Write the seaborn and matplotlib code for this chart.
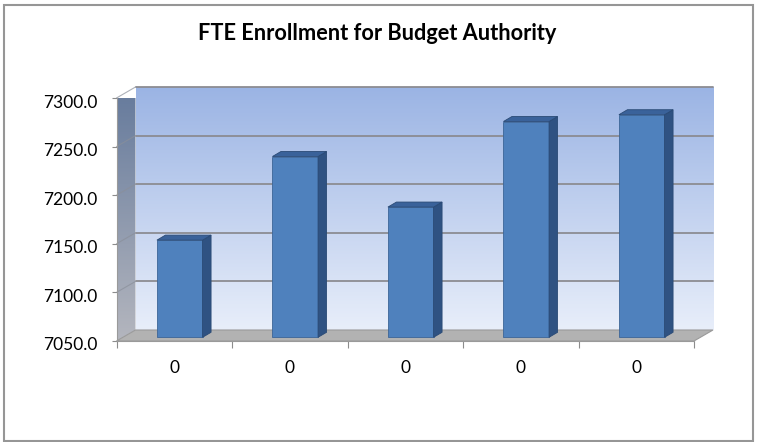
import numpy as np
import pandas as pd
import matplotlib
matplotlib.use("Agg")
import matplotlib.pyplot as plt
import seaborn as sns
from matplotlib.patches import Polygon, Rectangle
from matplotlib.colors import LinearSegmentedColormap
from matplotlib.lines import Line2D
from matplotlib.transforms import ScaledTranslation

# ---------------- data ----------------
title = "FTE Enrollment for Budget Authority"
periods = [1, 2, 3, 4, 5]
tick_labels = ["0", "0", "0", "0", "0"]
enrollment = [7150.0, 7236.0, 7184.0, 7272.0, 7279.0]
y_ticks = [7050.0, 7100.0, 7150.0, 7200.0, 7250.0, 7300.0]

df = pd.DataFrame({"period": periods, "fte": enrollment})

# ---------------- style ----------------
sns.set_theme(style="white")
plt.rcParams["font.family"] = ["Lato", "DejaVu Sans"]

W, H = 760, 442
fig = plt.figure(figsize=(W / 100, H / 100), dpi=100)
fig.patch.set_facecolor("white")

# front plane of the 3-D box (pixels)
L, R, T, B = 116.5, 694.0, 98.0, 341.0
ax = fig.add_axes([L / W, 1 - B / H, (R - L) / W, (B - T) / H])
ax.set_facecolor("none")

ymin, ymax = y_ticks[0], y_ticks[-1]
n = len(periods)
sx = (R - L) / n
sy = (B - T) / (ymax - ymin)


def off(dx_px, dy_px):
    return dx_px / sx, dy_px / sy


Dx, Dy = off(19, 11)      # full depth of the box
bx, by = off(5.5, 3.7)    # bar front plane
ddx, ddy = off(8.5, 5.0)  # bar depth

sns.barplot(data=df, x="period", y="fte", ax=ax, width=0.395,
            color="#4F81BD", saturation=1, edgecolor="#3C6597",
            linewidth=0.6, zorder=5)

x_lo, x_hi = -0.5, n - 0.5

# back wall gradient
wall_cmap = LinearSegmentedColormap.from_list("wall", ["#E8EEFA", "#9BB4E4"])
grad = np.linspace(0, 1, 256).reshape(-1, 1)
ax.imshow(grad, cmap=wall_cmap, origin="lower", aspect="auto",
          extent=[x_lo + Dx, x_hi + Dx, ymin + Dy, ymax + Dy],
          zorder=0, clip_on=False, interpolation="bilinear")

# left side wall gradient
side_cmap = LinearSegmentedColormap.from_list("side", ["#B4B6BE", "#657A9C"])
side_poly = Polygon([(x_lo, ymin), (x_lo + Dx, ymin + Dy),
                     (x_lo + Dx, ymax + Dy), (x_lo, ymax)],
                    closed=True, facecolor="none", edgecolor="none",
                    transform=ax.transData)
ax.add_patch(side_poly)
side_im = ax.imshow(grad, cmap=side_cmap, origin="lower", aspect="auto",
                    extent=[x_lo, x_lo + Dx, ymin, ymax + Dy],
                    zorder=1, interpolation="bilinear")
side_im.set_clip_path(side_poly)

# gridlines on back wall and side wall
gcol = "#8C8C92"
for v in y_ticks[1:]:
    ax.add_line(Line2D([x_lo + Dx, x_hi + Dx], [v + Dy, v + Dy], color=gcol,
                       lw=1.3, zorder=2, clip_on=False))
    ax.add_line(Line2D([x_lo, x_lo + Dx], [v, v + Dy], color="#8A8F9A",
                       lw=0.8, zorder=2, clip_on=False, alpha=0.7))

# floor
floor = Polygon([(x_lo, ymin), (x_hi, ymin), (x_hi + Dx, ymin + Dy),
                 (x_lo + Dx, ymin + Dy)], closed=True, facecolor="#B2B2B2",
                edgecolor="#9A9A9A", lw=0.8, zorder=3, clip_on=False)
ax.add_patch(floor)

# 3-D bars
for p in list(ax.patches):
    if not isinstance(p, Rectangle):
        continue
    h = p.get_height()
    x0 = p.get_x() + bx
    w = p.get_width()
    p.set_x(x0)
    p.set_y(ymin + by)
    p.set_height(h - ymin)
    p.set_clip_on(False)
    x1 = x0 + w
    yb, yt = ymin + by, h + by
    side = Polygon([(x1, yb), (x1 + ddx, yb + ddy), (x1 + ddx, yt + ddy), (x1, yt)],
                   closed=True, facecolor="#2F5282", edgecolor="#2A4A75",
                   lw=0.6, zorder=5, clip_on=False)
    top = Polygon([(x0, yt), (x0 + ddx, yt + ddy), (x1 + ddx, yt + ddy), (x1, yt)],
                  closed=True, facecolor="#3A629A", edgecolor="#2A4A75",
                  lw=0.6, zorder=5, clip_on=False)
    ax.add_patch(side)
    ax.add_patch(top)

ax.set_xlim(x_lo, x_hi)
ax.set_ylim(ymin, ymax)
ax.set_xlabel("")
ax.set_ylabel("")

# font sizing to match reference pixel widths
fig.canvas.draw()
rend = fig.canvas.get_renderer()


def fit(text, target, weight="normal"):
    t = fig.text(0, 0, text, fontsize=10, weight=weight)
    wpx = t.get_window_extent(rend).width
    t.remove()
    return 10 * target / wpx


fs_tick = fit("7300.0", 54)
fs_title = fit(title, 359, "bold")

# spines
for s in ["top", "right"]:
    ax.spines[s].set_visible(False)
ax.spines["left"].set_color("#9A9A9A")
ax.spines["left"].set_linewidth(0.8)
ax.spines["bottom"].set_color("#9A9A9A")
ax.spines["bottom"].set_linewidth(0.8)

# y ticks
ax.set_yticks(y_ticks, [f"{v:.1f}" for v in y_ticks])
ax.tick_params(axis="y", left=True, length=3.6, width=0.8, color="#8C8C8C",
               pad=10, labelsize=fs_tick, labelcolor="black")
for lab in ax.get_yticklabels():
    lab.set_transform(lab.get_transform() + ScaledTranslation(0, -3 / 100, fig.dpi_scale_trans))

# x ticks: boundaries as major ticks, labels at centres as minor ticks
ax.set_xticks(np.arange(x_lo, x_hi + 0.01, 1.0), [""] * (n + 1))
ax.set_xticks(np.arange(n), tick_labels, minor=True)
ax.tick_params(axis="x", which="major", bottom=True, length=5, width=0.8,
               color="#8C8C8C", direction="out")
ax.tick_params(axis="x", which="minor", bottom=True, length=0, pad=14,
               labelsize=fs_tick, labelcolor="black")

# title
fig.text(377.5 / W, 1 - 33 / H, title, ha="center", va="center",
         fontsize=fs_title, weight="bold", color="black")

# outer chart border
fig.patches.append(Rectangle((4 / W, 1 - 441 / H), 749 / W, 436 / H,
                             transform=fig.transFigure, fill=False,
                             edgecolor="#969696", lw=1.5, zorder=10))

fig.savefig("out.png", dpi=100, facecolor="white")
